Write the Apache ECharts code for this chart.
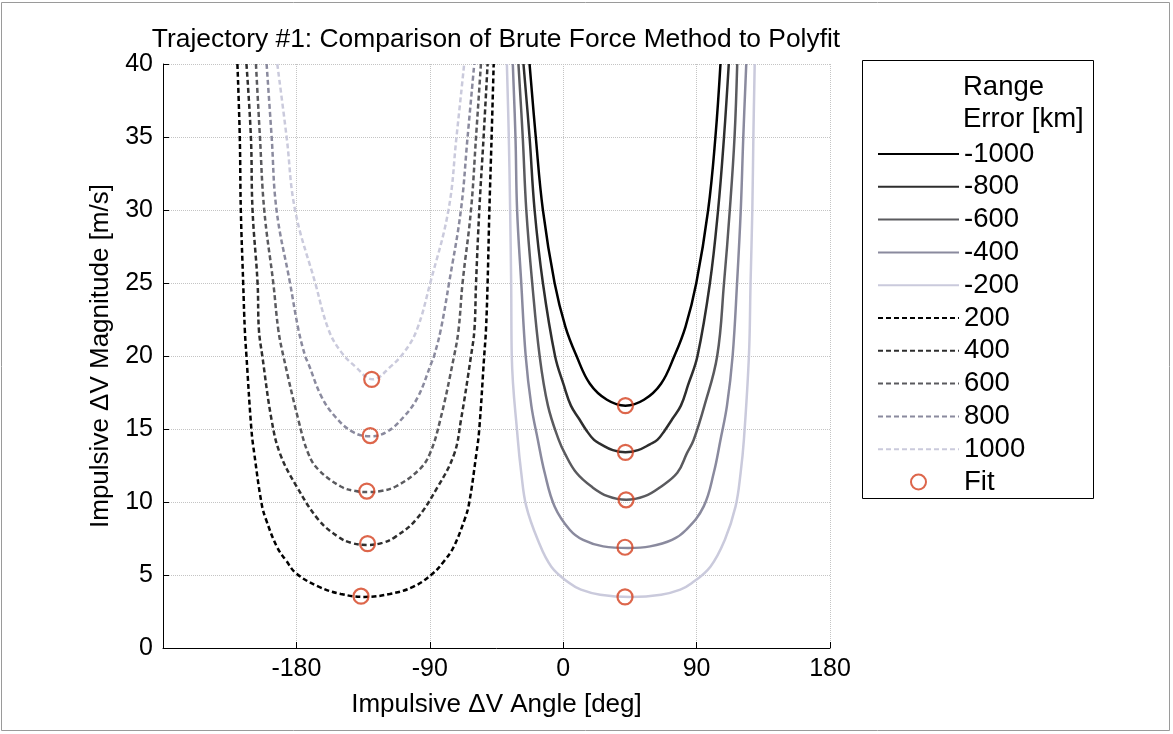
<!DOCTYPE html>
<html>
<head>
<meta charset="utf-8">
<script src="https://cdn.jsdelivr.net/npm/echarts@6/dist/echarts.min.js"></script>
<style>
html,body{margin:0;padding:0;background:#fff;}
#chart{width:1173px;height:734px;}
</style>
</head>
<body>
<div id="chart"></div>
<script>
// ---- data: [angle deg, magnitude m/s] ----
const seriesNames = ['-1000','-800','-600','-400','-200','200','400','600','800','1000'];

const curveNeg1000 = [[-22.7,40],[-18.5,35],[-13.7,30],[-5.8,25],[1.5,22],[9,20],[18,18.1],[29.5,17],[42,16.6],[54.5,17],[66,18.1],[75,20],[82.5,22],[89.8,25],[97.8,30],[102.7,35],[106.1,40]];
const curveNeg800 = [[-26.8,40],[-22.7,35],[-19.3,30],[-13.7,25],[-5.5,20],[0.4,18],[5.2,16.6],[10.7,15.7],[15.7,14.9],[20.8,14.25],[25.5,13.95],[33.5,13.55],[42,13.4],[50.5,13.55],[58.5,13.95],[63.5,14.25],[68.5,14.9],[73.7,15.7],[79.4,16.6],[84.2,18],[90.6,20],[99,25],[104.5,30],[108.5,35],[111.7,40]];
const curveNeg600 = [[-30.2,40],[-27.3,35],[-24.9,30],[-20.9,25],[-15.9,20],[-10.3,16.6],[-3,14.25],[1,13.35],[8.9,12],[19.8,11],[30,10.4],[42.5,10.15],[55,10.4],[65.2,11],[77,12],[83.5,13.35],[88,14.25],[95.3,16.6],[103.9,20],[108.5,25],[112.4,30],[115.6,35],[117.4,40]];
const curveNeg400 = [[-34,40],[-32.2,35],[-31.1,30],[-28.3,25],[-25.3,20],[-21.5,16.6],[-17.1,14.25],[-12.5,12],[-5.8,9.7],[4.4,8.1],[13.4,7.4],[27,6.96],[44,6.85],[58.6,6.96],[73.4,7.4],[83,8.1],[94.8,9.7],[101.6,12],[106.1,14.25],[110.5,16.6],[114.3,20],[117.3,25],[119.8,30],[121.5,35],[123.5,40]];
const curveNeg200 = [[-38,40],[-36.7,35],[-35.8,30],[-35.1,25],[-34.7,20],[-30.6,14.25],[-28.3,12],[-24.9,9.7],[-17.1,7.4],[-8,5.57],[4.4,4.43],[12,4.0],[25,3.65],[45.5,3.5],[66,3.65],[79,4.0],[86.6,4.43],[99.3,5.57],[109,7.4],[116.3,9.7],[119.7,12],[121.9,14.25],[125.3,20],[126.4,25],[127.6,30],[128.3,35],[129.2,40]];

const curvePos200 = [[-219.8,40],[-218.2,35],[-217.5,30],[-215.9,25],[-214.8,21.8],[-213.7,20],[-210.3,14.9],[-208.4,13.3],[-203.5,9.9],[-200.5,8.8],[-193,6.9],[-187,6.0],[-180,5.1],[-165,4.2],[-150,3.7],[-134,3.5],[-117,3.7],[-101,4.2],[-88,5.1],[-80,6.0],[-74,6.9],[-66.5,8.8],[-63.5,9.9],[-58.6,13.3],[-56.7,14.9],[-53.3,20],[-52.1,21.8],[-51,25],[-49.8,30],[-48.3,35],[-46.9,40]];
const curvePos400 = [[-213.7,40],[-210.7,35],[-209.6,30],[-206.2,25],[-205.3,21.8],[-203,20],[-196.7,15.6],[-191,13.3],[-179.8,11.06],[-165,8.77],[-152,7.63],[-143,7.2],[-132.3,7.06],[-122,7.2],[-113,7.63],[-99.5,8.77],[-84.5,11.06],[-73.5,13.3],[-69,15.6],[-62.2,20],[-59.9,21.8],[-58.8,25],[-56.6,30],[-53.7,35],[-51,40]];
const curvePos600 = [[-207.3,40],[-204.6,35],[-201.7,30],[-195.6,25],[-192.2,21.8],[-188.8,20],[-178.6,15.6],[-171.9,13.3],[-165,12.2],[-150,11.06],[-140,10.75],[-131.5,10.68],[-123,10.75],[-113,11.06],[-97.3,12.2],[-90,13.3],[-83,15.6],[-73.6,20],[-70.6,21.8],[-67.9,25],[-62.2,30],[-58.8,35],[-55.5,40]];
const curvePos800 = [[-200.1,40],[-196.7,35],[-193.4,30],[-184.3,25],[-178.6,21.8],[-174.1,20],[-172,19.5],[-163,17.2],[-153.8,15.84],[-142,14.8],[-130.5,14.5],[-119,14.8],[-107.5,15.84],[-98,17.2],[-89,19.5],[-87.1,20],[-82.6,21.8],[-77,25],[-69,30],[-64.5,35],[-60,40]];
const curvePos1000 = [[-192.9,40],[-186.6,35],[-180.9,30],[-167.3,25],[-158.3,21.8],[-150,20.3],[-140.2,19.27],[-128.5,18.4],[-116.5,19.27],[-107,20.3],[-98.7,21.8],[-89.7,25],[-77.4,30],[-72,35],[-66.8,40]];

const fitPoints = [[-129.2,18.4],[-130.2,14.55],[-132.5,10.75],[-132,7.15],[-136.4,3.55],[42,16.6],[42,13.4],[42.4,10.15],[41.7,6.9],[41.7,3.5]];

const xTickLabels = [-180,-90,0,90,180];
const yTickLabels = [0,5,10,15,20,25,30,35,40];

// ---- styling ----
const curves = [curveNeg1000,curveNeg800,curveNeg600,curveNeg400,curveNeg200,curvePos200,curvePos400,curvePos600,curvePos800,curvePos1000];
const shades = ['#000000','#2e2e2e','#5a5a5e','#8a8a9e','#cacadc'];

const series = curves.map((d,i)=>({
  name: seriesNames[i],
  type: 'line',
  data: d,
  symbol: 'none',
  smooth: 0.4,
  clip: true,
  lineStyle: {
    color: shades[i%5],
    width: 2.5,
    type: i<5 ? 'solid' : [5,3]
  },
  itemStyle: {color: shades[i%5]},
  emphasis: {disabled: true},
  z: 2
}));
series.push({
  name: 'Fit',
  type: 'scatter',
  data: fitPoints,
  symbol: 'circle',
  symbolSize: 15,
  itemStyle: {color: 'rgba(0,0,0,0)', borderColor: '#d4401e', borderWidth: 2.2},
  emphasis: {disabled: true},
  z: 5
});

const font = '"Liberation Sans", Arial, Helvetica, sans-serif';

const legendData = seriesNames.map(n => ({name: n, itemStyle: {opacity: 0}}));
legendData.push({name: 'Fit'});

const chart = echarts.init(document.getElementById('chart'), null, {renderer: 'canvas'});
chart.setOption({
  animation: false,
  backgroundColor: '#ffffff',
  textStyle: {fontFamily: font, color: '#000'},
  title: {
    text: 'Trajectory #1: Comparison of Brute Force Method to Polyfit',
    left: 491, top: 22, textAlign: 'center',
    textStyle: {fontFamily: font, fontSize: 26.4, fontWeight: 'normal', color: '#000'}
  },
  grid: {left: 163, right: 343, top: 64, bottom: 86, containLabel: false},
  xAxis: {
    type: 'value', min: -270, max: 180, interval: 90,
    name: 'Impulsive \u0394V Angle [deg]', nameLocation: 'middle', nameGap: 44,
    nameTextStyle: {fontFamily: font, fontSize: 26, color: '#000'},
    axisLine: {show: true, onZero: false, lineStyle: {color: '#000', width: 1}},
    axisTick: {show: true, inside: true, length: 6, lineStyle: {color: '#000'}},
    axisLabel: {fontFamily: font, fontSize: 25, color: '#000', margin: 9,
      formatter: v => xTickLabels.indexOf(v) >= 0 ? String(v) : ''},
    splitLine: {show: true, lineStyle: {color: '#c4c4c4', type: 'dotted', width: 1}}
  },
  yAxis: {
    type: 'value', min: 0, max: 40, interval: 5,
    name: 'Impulsive \u0394V Magnitude [m/s]', nameLocation: 'middle', nameGap: 48,
    nameTextStyle: {fontFamily: font, fontSize: 26, color: '#000'},
    axisLine: {show: true, onZero: false, lineStyle: {color: '#000', width: 1}},
    axisTick: {show: true, inside: true, length: 6, lineStyle: {color: '#000'}},
    axisLabel: {fontFamily: font, fontSize: 25, color: '#000', margin: 10,
      formatter: v => yTickLabels.indexOf(v) >= 0 ? String(v) : ''},
    splitLine: {show: true, lineStyle: {color: '#c4c4c4', type: 'dotted', width: 1}}
  },
  legend: {
    orient: 'vertical', left: 877, top: 140, padding: 0,
    itemWidth: 81, itemHeight: 15, itemGap: 4.8,
    data: legendData,
    textStyle: {fontFamily: font, fontSize: 27.5, color: '#000', lineHeight: 27.6, padding: [0,0,0,0]},
    selectedMode: false,
    inactiveColor: '#000'
  },
  graphic: [
    {type: 'rect', shape: {x: 1.5, y: 2.5, width: 1168, height: 728}, style: {fill: 'none', stroke: '#9a9a9a', lineWidth: 1}, silent: true, z: 0},
    {type: 'rect', shape: {x: 862.5, y: 60.5, width: 231, height: 438}, style: {fill: '#fff', stroke: '#000', lineWidth: 1}, silent: true, z: 0},
    {type: 'text', left: 963, top: 73, style: {text: 'Range', font: '27.5px ' + font, fill: '#000'}, silent: true, z: 10},
    {type: 'text', left: 963, top: 105, style: {text: 'Error [km]', font: '27.5px ' + font, fill: '#000'}, silent: true, z: 10}
  ],
  series: series
});
</script>
</body>
</html>
